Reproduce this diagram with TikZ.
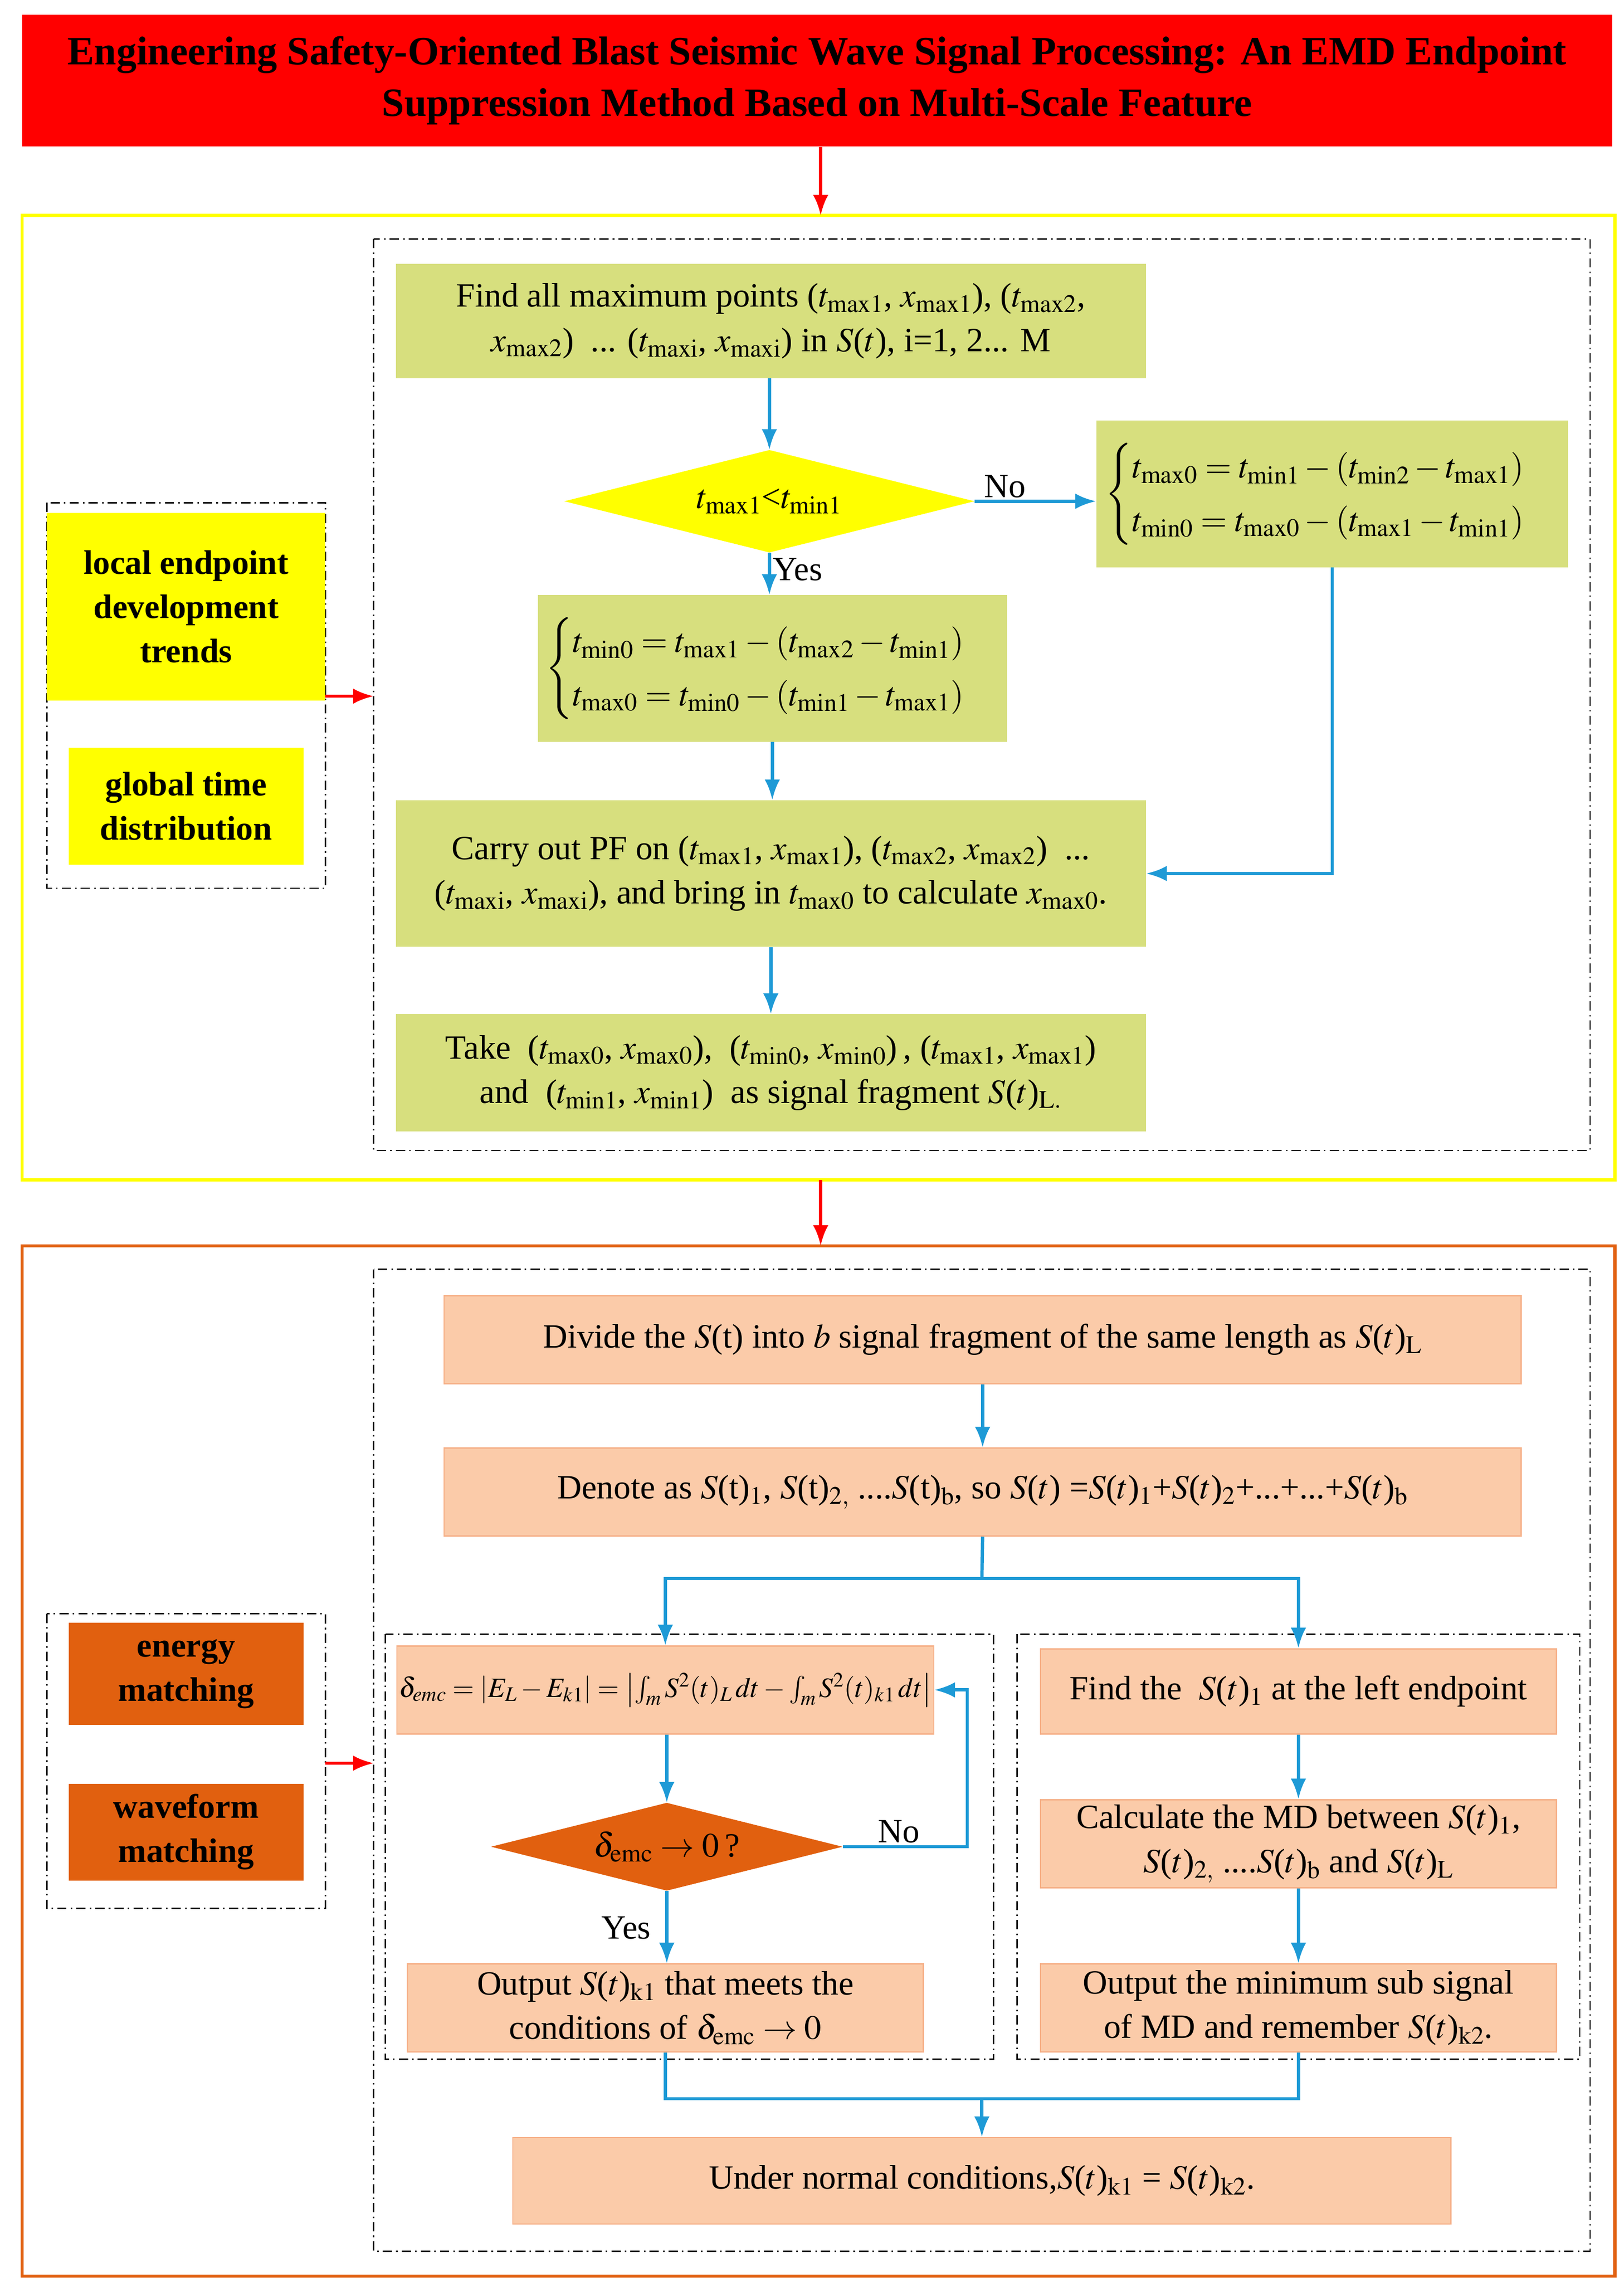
\documentclass[tikz,border=0pt]{standalone}
\usepackage{amsmath}
\usepackage{mathptmx}
\usepackage[no-math]{fontspec}
\setmainfont{Liberation Serif}
\usetikzlibrary{shapes.geometric,arrows.meta}
\definecolor{gbox}{HTML}{D7DF7E}
\definecolor{sbox}{HTML}{FBCBA9}
\definecolor{sedge}{HTML}{F6B088}
\definecolor{obox}{HTML}{E1600F}
\definecolor{barrow}{HTML}{1E9AD6}
\definecolor{ybox}{HTML}{FFFF00}
\begin{document}
\begin{tikzpicture}[x=0.05cm,y=-0.05cm,
  every node/.style={font=\fontsize{33}{43}\selectfont, align=center, inner sep=2pt},
  g/.style={fill=gbox, draw=none},
  s/.style={fill=sbox, draw=sedge, line width=1.2pt},
  yl/.style={fill=ybox, font=\fontsize{33}{43}\selectfont\bfseries},
  ol/.style={fill=obox, font=\fontsize{33}{43}\selectfont\bfseries},
  dd/.style={line width=1.3pt, dash pattern=on 9pt off 4pt on 1.5pt off 4pt},
  ba/.style={draw=barrow, line width=3.2pt, -{Latex[length=20pt,width=15pt]}},
  bl/.style={draw=barrow, line width=3.2pt},
  ra/.style={draw=red, line width=3.2pt, -{Latex[length=20pt,width=15pt]}}]
\useasboundingbox (0,0) rectangle (1108,1557);
\fill[white] (0,0) rectangle (1108,1557);
% title
\node[fill=red, minimum width=54.25cm, minimum height=4.5cm, font=\fontsize{39}{50}\selectfont\bfseries] (title) at (557.5,55)
 {Engineering Safety-Oriented Blast Seismic Wave Signal Processing: An EMD Endpoint\\ Suppression Method Based on Multi-Scale Feature};
% frames
\draw[ybox, line width=3pt] (15,147) rectangle (1102,805);
\coordinate (f1top) at (560,147);
\coordinate (f1bot) at (560,805);
\draw[dd] (255,163) rectangle (1085,785);
\draw[dd] (32,343) rectangle (222,606);
\draw[obox, line width=3pt] (15,850) rectangle (1102,1553);
\coordinate (f2top) at (560,850);
\draw[dd] (255,866) rectangle (1085,1536);
\draw[dd] (32,1101) rectangle (222,1302);
\draw[dd] (263,1115) rectangle (678,1405);
\draw[dd] (694,1115) rectangle (1078,1405);
\draw[ra] (title.south -| f1top) -- (f1top);
\draw[ra] (f1bot) -- (f2top);
\coordinate (l1a) at (222,475); \coordinate (l1b) at (255,475);
\draw[ra] (l1a) -- (l1b);
\coordinate (l2a) at (222,1203); \coordinate (l2b) at (255,1203);
\draw[ra] (l2a) -- (l2b);
% left labels
\node[yl, minimum width=9.5cm, minimum height=6.4cm] (loc) at (127,414) {local endpoint\\development\\trends};
\node[yl, minimum width=8cm, minimum height=4cm] (glob) at (127,550) {global time\\distribution};
\node[ol, minimum width=8cm, minimum height=3.5cm] (en) at (127,1142) {energy\\matching};
\node[ol, minimum width=8cm, minimum height=3.3cm] (wf) at (127,1250) {waveform\\matching};
% top section
\node[g, minimum width=25.6cm, minimum height=3.9cm] (A) at (526,219)
 {Find all maximum points ($t_{\mathrm{max1}}$, $x_{\mathrm{max1}}$), ($t_{\mathrm{max2}}$,\\ $x_{\mathrm{max2}}$)\enspace... ($t_{\mathrm{maxi}}$, $x_{\mathrm{maxi}}$) in $S$($t$), i=1, 2... M};
\node[diamond, aspect=4, fill=ybox, minimum width=14cm, minimum height=3.5cm, inner sep=0pt] (D1) at (525,342)
 {$t_{\mathrm{max1}}$<$t_{\mathrm{min1}}$};
\node[g, minimum width=16.1cm, minimum height=5cm] (R) at (909,337)
 {$\begin{cases} t_{\mathrm{max0}}=t_{\mathrm{min1}}-\left(t_{\mathrm{min2}}-t_{\mathrm{max1}}\right)\\ t_{\mathrm{min0}}=t_{\mathrm{max0}}-\left(t_{\mathrm{max1}}-t_{\mathrm{min1}}\right)\end{cases}$};
\node[g, minimum width=16cm, minimum height=5cm] (B) at (527,456)
 {$\begin{cases} t_{\mathrm{min0}}=t_{\mathrm{max1}}-\left(t_{\mathrm{max2}}-t_{\mathrm{min1}}\right)\\ t_{\mathrm{max0}}=t_{\mathrm{min0}}-\left(t_{\mathrm{min1}}-t_{\mathrm{max1}}\right)\end{cases}$};
\node[g, minimum width=25.6cm, minimum height=5cm] (C) at (526,596)
 {Carry out PF on ($t_{\mathrm{max1}}$, $x_{\mathrm{max1}}$), ($t_{\mathrm{max2}}$, $x_{\mathrm{max2}}$)\enspace...\\ ($t_{\mathrm{maxi}}$, $x_{\mathrm{maxi}}$), and bring in $t_{\mathrm{max0}}$ to calculate $x_{\mathrm{max0}}$.};
\node[g, minimum width=25.6cm, minimum height=4cm] (D) at (526,732)
 {Take\enspace($t_{\mathrm{max0}}$, $x_{\mathrm{max0}}$),\enspace($t_{\mathrm{min0}}$, $x_{\mathrm{min0}}$)\,, ($t_{\mathrm{max1}}$, $x_{\mathrm{max1}}$)\\ and\enspace($t_{\mathrm{min1}}$, $x_{\mathrm{min1}}$)\enspace as signal fragment $S$($t$)$_{\mathrm{L.}}$};
\draw[ba] (A.south -| D1.north) -- (D1.north);
\draw[ba] (D1.south) -- node[right, pos=0.4]{Yes} (D1.south |- B.north);
\draw[ba] (D1.east) -- node[above, pos=0.25]{No} (D1.east -| R.west);
\draw[ba] (B.south) -- (B.south |- C.north);
\draw[ba] (C.south) -- (D.north);
\draw[ba] (R.south) |- (C.east);
% bottom section
\node[s, minimum width=36.75cm, minimum height=3cm] (E) at (670.5,914)
 {Divide the $S$(t) into $b$ signal fragment of the same length as $S$($t$)$_{\mathrm{L}}$};
\node[s, minimum width=36.75cm, minimum height=3cm] (F) at (670.5,1018)
 {Denote as $S$(t)$_1$, $S$(t)$_{2,}$ ....$S$(t)$_\mathrm{b}$, so $S$($t$) =$S$($t$)$_1$+$S$($t$)$_2$+...+...+$S$($t$)$_\mathrm{b}$};
\draw[ba] (E) -- (F);
\node[s, minimum width=17.6cm, minimum height=3cm, font=\fontsize{27}{32}\selectfont] (G) at (454,1153)
 {$\delta_{emc}=\left|E_L-E_{k1}\right|=\left|\int_m S^2(t)_L\,dt-\int_m S^2(t)_{k1}\,dt\right|$};
\node[diamond, aspect=4, fill=obox, minimum width=12cm, minimum height=3cm, inner sep=0pt] (D2) at (455,1260)
 {$\delta_{\mathrm{emc}}\rightarrow0$\,?};
\node[s, minimum width=17.6cm, minimum height=3cm] (H) at (454,1370)
 {Output $S$($t$)$_{\mathrm{k1}}$ that meets the\\ conditions of $\delta_{\mathrm{emc}}\rightarrow0$};
\node[s, minimum width=17.6cm, minimum height=2.9cm] (I) at (886,1154)
 {Find the\enspace$S$($t$)$_1$ at the left endpoint};
\node[s, minimum width=17.6cm, minimum height=3cm] (J) at (886,1258)
 {Calculate the MD between $S$($t$)$_1$,\\ $S$($t$)$_{2,}$ ....$S$($t$)$_\mathrm{b}$ and $S$($t$)$_\mathrm{L}$};
\node[s, minimum width=17.6cm, minimum height=3cm] (K) at (886,1370)
 {Output the minimum sub signal\\ of MD and remember $S$($t$)$_{\mathrm{k2}}$.};
\node[s, minimum width=32cm, minimum height=2.95cm] (L) at (670,1488)
 {Under normal conditions,$S$($t$)$_{\mathrm{k1}}$ = $S$($t$)$_{\mathrm{k2}}$.};
\coordinate (br) at (670,1077);
\draw[bl] (F.south) -- (br);
\draw[ba] (br) -| (G.north);
\draw[ba] (br) -| (I.north);
\draw[ba] (G.south -| D2.north) -- (D2.north);
\draw[ba] (D2.south) -- node[left, pos=0.45, xshift=-12pt, yshift=-4pt]{Yes} (D2.south |- H.north);
\coordinate (lp) at (660,1260);
\draw[ba] (D2.east) -- node[above, pos=0.45]{No} (lp) |- (G.east);
\draw[ba] (I) -- (J);
\draw[ba] (J) -- (K);
\coordinate (mg) at (670,1432);
\draw[bl] (H.south) |- (mg);
\draw[bl] (K.south) |- (mg);
\draw[ba] (mg) -- (L.north);
\end{tikzpicture}
\end{document}
